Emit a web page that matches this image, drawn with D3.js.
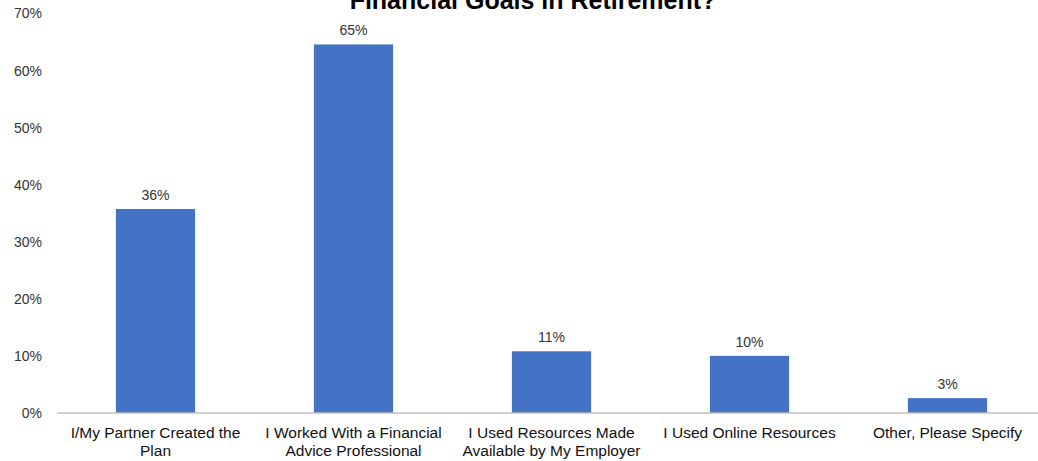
<!DOCTYPE html>
<html>
<head>
<meta charset="utf-8">
<script src="https://cdn.jsdelivr.net/npm/d3@7"></script>
<style>
  body { margin: 0; background: #fff; }
  text { font-family: "Liberation Sans", Arial, sans-serif; }
</style>
</head>
<body>
<script>
// chart data
const categories = [
  ["I/My Partner Created the", "Plan"],
  ["I Worked With a Financial", "Advice Professional"],
  ["I Used Resources Made", "Available by My Employer"],
  ["I Used Online Resources"],
  ["Other, Please Specify"]
];
const values = [35.7, 64.5, 10.8, 10.0, 2.6];
const yTicks = [0, 10, 20, 30, 40, 50, 60, 70];
const titleText = "Financial Goals in Retirement?";

const width = 1038, height = 461;

const svg = d3.select('body')
  .append('svg')
  .attr('width', width)
  .attr('height', height);

// scales
const x = d3.scaleBand()
  .domain(d3.range(categories.length))
  .range([56.5, 1046.5])
  .paddingInner(0.6)
  .paddingOuter(0.3);

const y = d3.scaleLinear()
  .domain([0, 70])
  .range([413, 13]);

// title (top line is cut off in the original)
svg.append('text')
  .attr('x', 533)
  .attr('y', 9)
  .attr('text-anchor', 'middle')
  .style('font-size', '25px')
  .style('font-weight', 'bold')
  .attr('fill', '#000')
  .text(titleText);

// y axis labels
const yAxis = d3.axisLeft(y)
  .tickValues(yTicks)
  .tickFormat(d => d + '%')
  .tickSize(0)
  .tickPadding(0);

svg.append('g')
  .attr('transform', 'translate(42, 0)')
  .call(yAxis)
  .call(g => g.select('.domain').remove())
  .selectAll('text')
  .attr('fill', '#333')
  .style('font-size', '14px')
  .attr('dy', '0.35em');

// bars
svg.selectAll('.bar')
  .data(values)
  .enter()
  .append('rect')
  .attr('class', 'bar')
  .attr('x', (d, i) => x(i))
  .attr('y', d => y(d))
  .attr('width', x.bandwidth())
  .attr('height', d => y(0) - y(d))
  .attr('fill', '#4472c4');

// value labels
svg.selectAll('.label')
  .data(values)
  .enter()
  .append('text')
  .attr('class', 'label')
  .attr('x', (d, i) => x(i) + x.bandwidth() / 2)
  .attr('y', d => y(d) - 9)
  .attr('text-anchor', 'middle')
  .attr('fill', '#333')
  .style('font-size', '14px')
  .text(d => Math.round(d) + '%');

// x axis line
svg.append('line')
  .attr('x1', 57)
  .attr('x2', width)
  .attr('y1', y(0))
  .attr('y2', y(0))
  .attr('stroke', '#bfbfbf')
  .attr('stroke-width', 1.5);

// category labels
const cat = svg.selectAll('.cat')
  .data(categories)
  .enter()
  .append('text')
  .attr('class', 'cat')
  .attr('text-anchor', 'middle')
  .attr('fill', '#111')
  .style('font-size', '15.5px')
  .attr('transform', (d, i) => 'translate(' + (x(i) + x.bandwidth() / 2) + ', 438)');

cat.selectAll('tspan')
  .data(d => d)
  .enter()
  .append('tspan')
  .attr('x', 0)
  .attr('y', (d, i) => i * 18)
  .text(d => d);
</script>
</body>
</html>
